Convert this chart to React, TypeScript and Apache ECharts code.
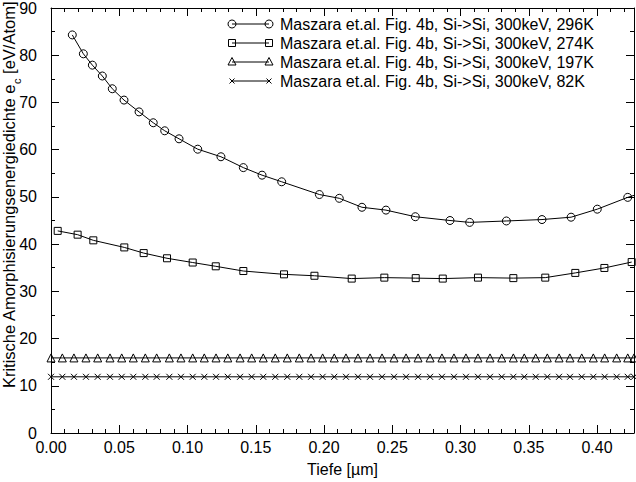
import React, { useEffect, useRef } from "react";
import * as echarts from "echarts";

const FONT = '"Liberation Sans", Arial, Helvetica, sans-serif';

// 296K (circles)
const depth296 = [0.0156, 0.0237, 0.0303, 0.0376, 0.0449, 0.0535, 0.0645, 0.0749, 0.0833, 0.0938, 0.1075, 0.1245, 0.1409, 0.1546, 0.169, 0.1966, 0.2112, 0.2278, 0.2454, 0.2669, 0.2923, 0.3067, 0.3336, 0.3597, 0.381, 0.4002, 0.4225, 0.445];
const e296 = [84.3, 80.3, 77.9, 75.6, 72.9, 70.5, 68.0, 65.7, 64.0, 62.3, 60.1, 58.5, 56.2, 54.6, 53.2, 50.5, 49.7, 47.8, 47.2, 45.8, 45.0, 44.6, 44.9, 45.2, 45.7, 47.4, 49.9, 52.0];

// 274K (squares)
const depth274 = [0.0049, 0.0195, 0.031, 0.0537, 0.0679, 0.085, 0.1038, 0.1207, 0.1409, 0.1707, 0.193, 0.2203, 0.2442, 0.2672, 0.287, 0.3128, 0.3387, 0.3621, 0.3841, 0.4054, 0.4254];
const e274 = [42.8, 42.0, 40.8, 39.3, 38.1, 37.0, 36.1, 35.3, 34.3, 33.6, 33.3, 32.7, 32.9, 32.8, 32.7, 32.9, 32.8, 32.9, 33.9, 34.95, 36.2];

// 197K (triangles) and 82K (crosses) share depths
const depthLow = [0, 0.0083, 0.0168, 0.0256, 0.0342, 0.0432, 0.0518, 0.0603, 0.0691, 0.0774, 0.0867, 0.0952, 0.1038, 0.1123, 0.1209, 0.1295, 0.1385, 0.147, 0.1555, 0.1643, 0.1731, 0.1819, 0.1905, 0.199, 0.2075, 0.2161, 0.2249, 0.2337, 0.2425, 0.2513, 0.2601, 0.2689, 0.2777, 0.2864, 0.2952, 0.304, 0.3128, 0.3216, 0.3302, 0.3387, 0.3467, 0.3551, 0.3636, 0.3722, 0.3802, 0.3888, 0.3973, 0.4056, 0.4144, 0.4225, 0.4271];
const e197 = [15.9, 15.9, 15.9, 15.9, 15.9, 15.9, 15.9, 15.9, 15.9, 15.9, 15.9, 15.9, 15.9, 15.9, 15.9, 15.9, 15.9, 15.9, 15.9, 15.9, 15.9, 15.9, 15.9, 15.9, 15.9, 15.9, 15.9, 15.9, 15.9, 15.9, 15.9, 15.9, 15.9, 15.9, 15.9, 15.9, 15.9, 15.9, 15.9, 15.9, 15.9, 15.9, 15.9, 15.9, 15.9, 15.9, 15.9, 15.9, 15.9, 15.9, 15.9];
const e82 = [11.9, 11.9, 11.9, 11.9, 11.9, 11.9, 11.9, 11.9, 11.9, 11.9, 11.9, 11.9, 11.9, 11.9, 11.9, 11.9, 11.9, 11.9, 11.9, 11.9, 11.9, 11.9, 11.9, 11.9, 11.9, 11.9, 11.9, 11.9, 11.9, 11.9, 11.9, 11.9, 11.9, 11.9, 11.9, 11.9, 11.9, 11.9, 11.9, 11.9, 11.9, 11.9, 11.9, 11.9, 11.9, 11.9, 11.9, 11.9, 11.9, 11.9, 11.9];

const seriesNames = [
  "Maszara et.al. Fig. 4b, Si->Si, 300keV, 296K",
  "Maszara et.al. Fig. 4b, Si->Si, 300keV, 274K",
  "Maszara et.al. Fig. 4b, Si->Si, 300keV, 197K",
  "Maszara et.al. Fig. 4b, Si->Si, 300keV, 82K",
];

const xLabel = "Tiefe [µm]";
const X_MIN = 0;
const X_MAX = 0.4271;
const X_INTERVAL = 0.05;
const Y_MIN = 0;
const Y_MAX = 90;
const Y_INTERVAL = 10;

const CROSS = "path://M0,0L8,8M8,0L0,8";

function pairs(xs: number[], ys: number[]) {
  return xs.map((x, i) => [x, ys[i]]);
}

function marker(kind: string, cx: number, cy: number) {
  const st = { stroke: "#000", fill: "none", lineWidth: 1 };
  if (kind === "circle") return { type: "circle", shape: { cx, cy, r: 4 }, style: st };
  if (kind === "rect") return { type: "rect", shape: { x: cx - 3.5, y: cy - 3.5, width: 7, height: 7 }, style: st };
  if (kind === "triangle")
    return { type: "polygon", shape: { points: [[cx, cy - 4.5], [cx + 4, cy + 3], [cx - 4, cy + 3]] }, style: st };
  return {
    type: "group",
    children: [
      { type: "line", shape: { x1: cx - 2.5, y1: cy - 2.5, x2: cx + 2.5, y2: cy + 2.5 }, style: st },
      { type: "line", shape: { x1: cx + 2.5, y1: cy - 2.5, x2: cx - 2.5, y2: cy + 2.5 }, style: st },
    ],
  };
}

export default function App() {
  const ref = useRef<HTMLDivElement>(null);
  useEffect(() => {
    if (!ref.current) return;
    const chart = echarts.init(ref.current, null, { renderer: "svg" });
    const axisCommon = {
      type: "value",
      axisLine: { show: true, onZero: false, lineStyle: { color: "#000", width: 1 } },
      axisTick: { show: true, inside: true, length: 8, lineStyle: { color: "#000", width: 1 } },
      splitLine: { show: false },
    };
    const xCommon = {
      ...axisCommon,
      min: X_MIN,
      max: X_MAX,
      interval: X_INTERVAL,
      minorTick: { show: true, splitNumber: 5, length: 4, lineStyle: { color: "#000", width: 1 } },
    };
    const yCommon = {
      ...axisCommon,
      min: Y_MIN,
      max: Y_MAX,
      interval: Y_INTERVAL,
      minorTick: { show: true, splitNumber: 2, length: 4, lineStyle: { color: "#000", width: 1 } },
    };
    const kinds = ["circle", "rect", "triangle", "cross"];
    const legendGraphics: any[] = [];
    seriesNames.forEach((name, i) => {
      const y = 24 + 19 * i;
      legendGraphics.push({ type: "line", shape: { x1: 232, y1: y, x2: 269, y2: y }, style: { stroke: "#000", lineWidth: 1 } });
      legendGraphics.push(marker(kinds[i], 232, y));
      legendGraphics.push(marker(kinds[i], 269, y));
      legendGraphics.push({
        type: "text",
        x: 280,
        y: y,
        style: { text: name, fontSize: 16, fontFamily: FONT, fill: "#000", align: "left", verticalAlign: "middle" },
      });
    });
    const lineSeries = (name: string, data: number[][], symbol: string, size: number) => ({
      name,
      type: "line",
      data,
      symbol,
      symbolSize: size,
      showAllSymbol: true,
      clip: true,
      lineStyle: { color: "#000", width: 1 },
      itemStyle: { color: "rgba(0,0,0,0)", borderColor: "#000", borderWidth: 1 },
      emphasis: { disabled: true },
    });
    chart.setOption({
      animation: false,
      backgroundColor: "#fff",
      textStyle: { fontFamily: FONT },
      grid: { left: 51, right: 2, top: 6, bottom: 46 },
      xAxis: [
        {
          ...xCommon,
          position: "bottom",
          axisLabel: {
            show: true,
            fontSize: 16,
            color: "#000",
            fontFamily: FONT,
            margin: 6,
            showMaxLabel: false,
            formatter: (v: number) => v.toFixed(2),
          },
          name: xLabel,
          nameLocation: "middle",
          nameGap: 28,
          nameTextStyle: { fontSize: 16, color: "#000", fontFamily: FONT },
        },
        { ...xCommon, position: "top", axisLabel: { show: false } },
      ],
      yAxis: [
        {
          ...yCommon,
          position: "left",
          axisLabel: { show: true, fontSize: 16, color: "#000", fontFamily: FONT, margin: 14 },
        },
        { ...yCommon, position: "right", axisLabel: { show: false } },
      ],
      graphic: [
        {
          type: "text",
          x: 10,
          y: 195,
          rotation: Math.PI / 2,
          style: {
            text: "{a|Kritische Amorphisierungsenergiedichte e}{s|c}{a| [eV/Atom]}",
            align: "center",
            verticalAlign: "middle",
            fill: "#000",
            fontFamily: FONT,
            rich: {
              a: { fontSize: 16.5, fontFamily: FONT, fill: "#000", lineHeight: 20, verticalAlign: "top" },
              s: { fontSize: 11, fontFamily: FONT, fill: "#000", lineHeight: 11, padding: [11, 0, 0, 0], verticalAlign: "top" },
            },
          },
        },
        ...legendGraphics,
      ],
      series: [
        lineSeries(seriesNames[0], pairs(depth296, e296), "circle", 8),
        lineSeries(seriesNames[1], pairs(depth274, e274), "rect", 7),
        lineSeries(seriesNames[2], pairs(depthLow, e197), "triangle", 8),
        lineSeries(seriesNames[3], pairs(depthLow, e82), CROSS, 6),
      ],
    });
    return () => chart.dispose();
  }, []);
  return <div ref={ref} style={{ position: "absolute", left: 0, top: 0, width: 636, height: 482 }} />;
}
